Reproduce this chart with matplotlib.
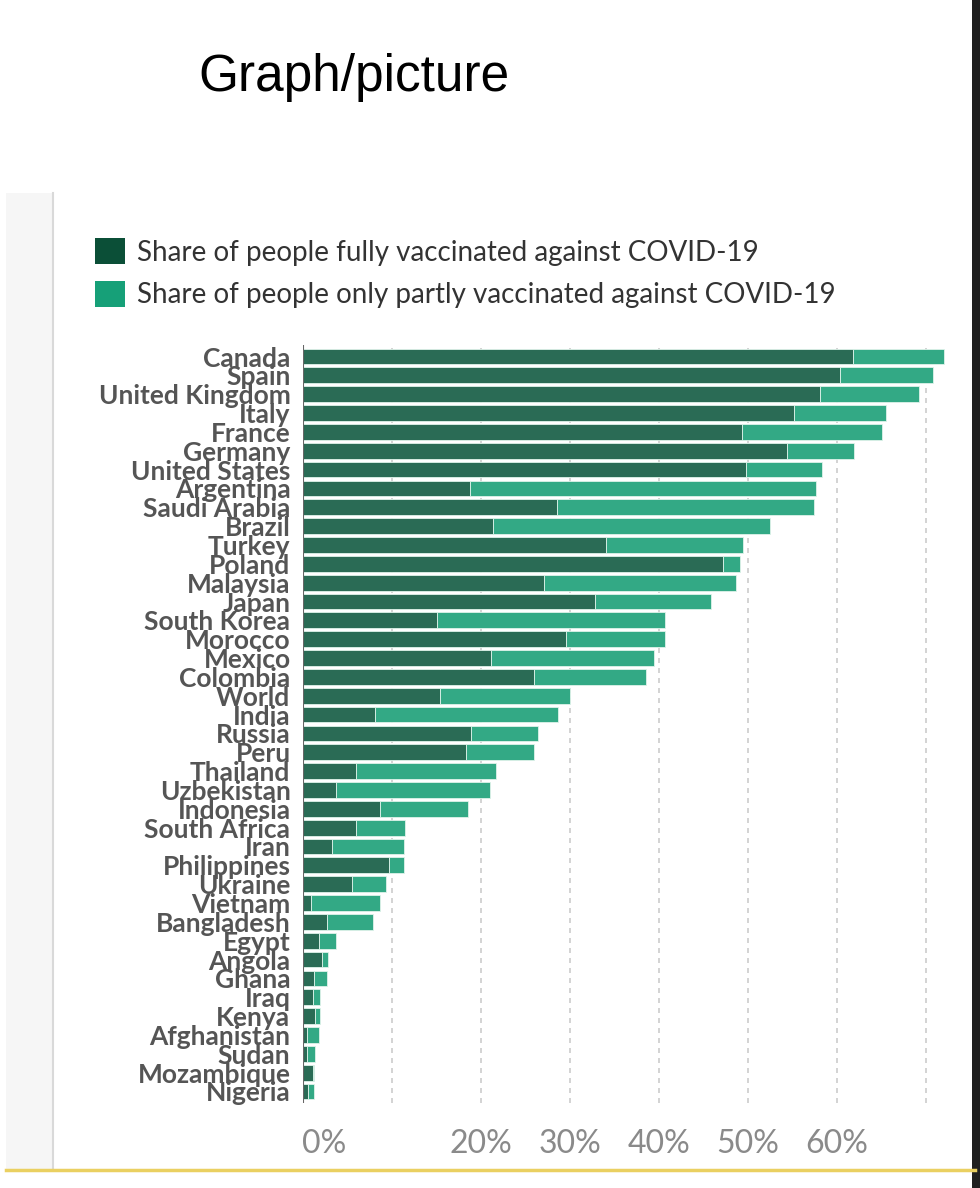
import matplotlib
matplotlib.use("Agg")
import matplotlib.pyplot as plt
from matplotlib.patches import Patch, Rectangle
from matplotlib.lines import Line2D
import matplotlib.transforms as mtransforms

countries = ["Canada", "Spain", "United Kingdom", "Italy", "France", "Germany",
             "United States", "Argentina", "Saudi Arabia", "Brazil", "Turkey",
             "Poland", "Malaysia", "Japan", "South Korea", "Morocco", "Mexico",
             "Colombia", "World", "India", "Russia", "Peru", "Thailand",
             "Uzbekistan", "Indonesia", "South Africa", "Iran", "Philippines",
             "Ukraine", "Vietnam", "Bangladesh", "Egypt", "Angola", "Ghana",
             "Iraq", "Kenya", "Afghanistan", "Sudan", "Mozambique", "Nigeria"]
fully = [61.8, 60.3, 58.1, 55.2, 49.3, 54.4, 49.8, 18.8, 28.5, 21.4, 34.0,
         47.2, 27.1, 32.8, 15.0, 29.6, 21.1, 25.9, 15.4, 8.1, 18.9, 18.3,
         6.0, 3.7, 8.7, 6.0, 3.3, 9.7, 5.5, 0.9, 2.7, 1.8, 2.1, 1.2, 1.1,
         1.3, 0.5, 0.4, 1.1, 0.6]
total = [72.0, 70.8, 69.2, 65.5, 65.1, 61.9, 58.3, 57.6, 57.4, 52.5, 49.4,
         49.1, 48.7, 45.8, 40.7, 40.7, 39.4, 38.5, 30.0, 28.6, 26.4, 26.0,
         21.7, 21.0, 18.5, 11.5, 11.3, 11.3, 9.3, 8.6, 7.9, 3.7, 2.8, 2.7,
         1.9, 1.9, 1.8, 1.4, 1.2, 1.2]
partly = [round(t - f, 1) for t, f in zip(total, fully)]

tick_values = [0, 20, 30, 40, 50, 60]
tick_labels = ["0%", "20%", "30%", "40%", "50%", "60%"]
grid_values = [10, 20, 30, 40, 50, 60, 70]
legend_labels = ["Share of people fully vaccinated against COVID-19",
                 "Share of people only partly vaccinated against COVID-19"]

W, H = 980, 1188
fig = plt.figure(figsize=(W / 100, H / 100), dpi=100)
fig.patch.set_facecolor("white")

def fx(px):
    return px / W

def fy(py):
    return 1 - py / H

# page decorations
fig.patches.append(Rectangle((fx(6), fy(1170)), fx(47), fy(193) - fy(1170),
                             transform=fig.transFigure, facecolor="#f6f6f6",
                             edgecolor="none", zorder=0))
fig.lines.append(Line2D([fx(53), fx(53)], [fy(193), fy(1170)],
                        transform=fig.transFigure, color="#d9d9d9", lw=1.5))
fig.lines.append(Line2D([fx(6), fx(975)], [fy(1170), fy(1170)],
                        transform=fig.transFigure, color="#ead061", lw=2.5))
fig.patches.append(Rectangle((fx(972), 0), fx(8), 1,
                             transform=fig.transFigure, facecolor="#202020",
                             edgecolor="none", zorder=0))

fig.text(fx(198), fy(91), "Graph/picture", fontsize=37,
         family=["Liberation Sans", "DejaVu Sans"], color="black",
         ha="left", va="baseline")

# axes: 0% at x=303, 8.9 px per percent
x0 = 303
ppp = 8.9
xmax = 74
n = len(countries)
ax = fig.add_axes([fx(x0), fy(1102.8), xmax * ppp / W, (1102.8 - 345.2) / H])
ax.set_xlim(0, xmax)
ax.set_ylim(n - 0.4, -0.6)

ypos = list(range(n))
dark_bar = "#2a6b55"
light_bar = "#33a985"
ax.barh(ypos, fully, height=0.84, color=dark_bar, edgecolor="#dff3ea",
        linewidth=0.6, zorder=2)
ax.barh(ypos, partly, left=fully, height=0.84, color=light_bar,
        edgecolor="#dff3ea", linewidth=0.6, zorder=2)

for g in grid_values:
    ax.axvline(g, color="#cccccc", lw=1.2, ls=(0, (3, 3)), zorder=1)
ax.axvline(0, color="#666666", lw=1.5, zorder=3)

for s in ax.spines.values():
    s.set_visible(False)

ax.set_yticks(ypos)
ax.set_yticklabels(countries, family=["Lato", "DejaVu Sans"], fontsize=19,
                   fontweight="bold", color="#555555")
ax.tick_params(axis="y", length=0, pad=9)

ax.set_xticks(tick_values)
ax.set_xticklabels(tick_labels, family=["Lato", "DejaVu Sans"], fontsize=23,
                   color="#8a8a8a")
ax.tick_params(axis="x", length=0, pad=19)
# the 0% label sits a bit right of the axis
lab0 = ax.get_xticklabels()[0]
lab0.set_transform(lab0.get_transform() +
                   mtransforms.ScaledTranslation(21 / 100, 0, fig.dpi_scale_trans))

handles = [Patch(facecolor="#0b4f37", edgecolor="none"),
           Patch(facecolor="#16a078", edgecolor="none")]
fig.legend(handles, legend_labels, loc="upper left",
           bbox_to_anchor=(fx(70), fy(213)), frameon=False,
           prop={"family": ["Lato", "DejaVu Sans"], "size": 20},
           labelcolor="#333333", handlelength=1.07, handleheight=1.07,
           handletextpad=0.45, labelspacing=0.55)

fig.savefig("out.png", dpi=100, facecolor="white")
